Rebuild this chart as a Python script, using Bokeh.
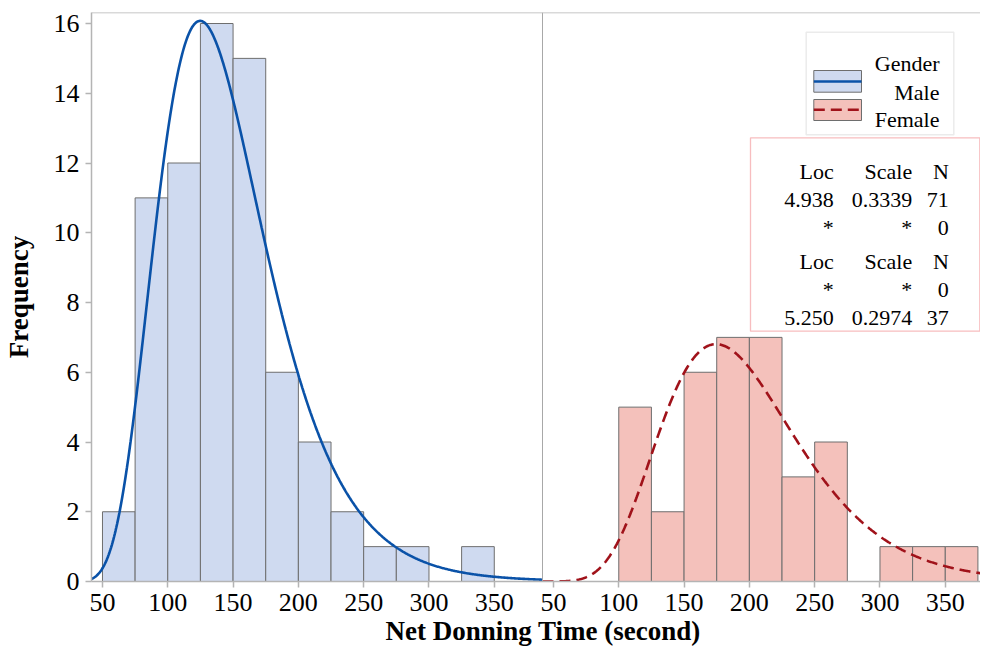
import numpy as np
from bokeh.plotting import figure
from bokeh.models import (Range1d, FixedTicker, Span, Label, BoxAnnotation, Title,
                          CustomJSTickFormatter, ColumnDataSource)
from bokeh.embed import file_html
from bokeh.resources import INLINE

# ---------------- data ----------------
male_bin_left = [50, 75, 100, 125, 150, 175, 200, 225, 250, 275, 300, 325]
male_counts = [2, 11, 12, 16, 15, 6, 4, 2, 1, 1, 0, 1]
female_bin_left = [100, 125, 150, 175, 200, 225, 250, 275, 300, 325, 350]
female_counts = [5, 2, 6, 7, 7, 3, 4, 0, 1, 1, 1]
bin_width = 25
x_ticks = [50, 100, 150, 200, 250, 300, 350]
y_ticks = [0, 2, 4, 6, 8, 10, 12, 14, 16]
groups = ["Male", "Female"]
fit_loc = [4.938, 5.250]
fit_scale = [0.3339, 0.2974]
fit_n = [71, 37]

# ---------------- styling / layout ----------------
FONT = "Liberation Serif"
male_fill, female_fill = "#CFDAF0", "#F4C1BB"
male_line, female_line = "#0A52A8", "#A0121A"
bar_edge = "#6E6E6E"
axis_gray = "#B4B4B4"

FIG_W, FIG_H = 980, 652
BL, BT, BB = 91, 12, 71
FRAME_W = FIG_W - BL
FRAME_H = FIG_H - BT - BB
KX = 1.306            # px per x unit
KY = 34.875           # px per y unit
X_START = 41.6
PANEL = 451 / KX      # width of one panel in x units
X_END = X_START + FRAME_W / KX
Y_END = FRAME_H / KY
FL, FB = BL, BT + FRAME_H   # page px of frame left / bottom


def px(xp):
    return X_START + (xp - FL) / KX


def py(yp):
    return (FB - yp) / KY


p = figure(width=FIG_W, height=FIG_H, x_range=Range1d(X_START, X_END),
           y_range=Range1d(0, Y_END), output_backend="svg", toolbar_location=None,
           min_border_left=BL, min_border_right=0, min_border_top=BT,
           min_border_bottom=BB)
p.outline_line_color = None
p.xgrid.visible = False
p.ygrid.visible = False
p.background_fill_color = "white"
p.border_fill_color = "white"

# ---------------- bars ----------------
ml = np.array(male_bin_left, dtype=float)
fl = np.array(female_bin_left, dtype=float) + PANEL
src_m = ColumnDataSource(dict(left=ml, right=ml + bin_width,
                              top=male_counts, bottom=[0] * len(male_counts)))
src_f = ColumnDataSource(dict(left=fl, right=fl + bin_width,
                              top=female_counts, bottom=[0] * len(female_counts)))
p.quad(left="left", right="right", top="top", bottom="bottom", source=src_m,
       fill_color=male_fill, line_color=bar_edge, line_width=1)
p.quad(left="left", right="right", top="top", bottom="bottom", source=src_f,
       fill_color=female_fill, line_color=bar_edge, line_width=1)


# ---------------- fitted lognormal curves ----------------
def lognorm_counts(x, loc, scale, n):
    return n * bin_width * np.exp(-(np.log(x) - loc) ** 2 / (2 * scale ** 2)) / (
        x * scale * np.sqrt(2 * np.pi))


xs_m = np.linspace(X_START, X_START + PANEL, 600)
p.line(xs_m, lognorm_counts(xs_m, fit_loc[0], fit_scale[0], fit_n[0]),
       line_color=male_line, line_width=2.6)
xs_f = np.linspace(X_START, X_END - PANEL, 600)
p.line(xs_f + PANEL, lognorm_counts(xs_f, fit_loc[1], fit_scale[1], fit_n[1]),
       line_color=female_line, line_width=2.6, line_dash="11 6")

# ---------------- borders ----------------
p.add_layout(Span(location=X_START + PANEL, dimension="height",
                  line_color="#A8A8A8", line_width=1))
p.add_layout(Span(location=Y_END, dimension="width",
                  line_color=axis_gray, line_width=1.5))

# ---------------- axes ----------------
p.xaxis.ticker = FixedTicker(ticks=x_ticks + [t + PANEL for t in x_ticks])
p.xaxis.formatter = CustomJSTickFormatter(
    args=dict(panel=PANEL, div=X_START + PANEL),
    code="const v = tick >= div ? tick - panel : tick; return Math.round(v).toString();")
p.yaxis.ticker = FixedTicker(ticks=y_ticks)
for ax in (p.xaxis[0], p.yaxis[0]):
    ax.axis_line_color = axis_gray
    ax.axis_line_width = 1.5
    ax.major_tick_line_color = axis_gray
    ax.major_tick_line_width = 1.5
    ax.major_tick_out = 6
    ax.major_tick_in = 0
    ax.minor_tick_line_color = None
    ax.major_label_text_font = FONT
    ax.major_label_text_font_size = "26px"
    ax.major_label_text_color = "black"
    ax.major_label_standoff = 6
p.yaxis.axis_label = "Frequency"
p.yaxis.axis_label_text_font = FONT
p.yaxis.axis_label_text_font_size = "27px"
p.yaxis.axis_label_text_font_style = "bold"
p.yaxis.axis_label_text_color = "black"
p.yaxis.axis_label_standoff = 17

# x-axis title, spanning both panels (centred on the panel divider)
p.add_layout(Title(text="Net Donning Time (second)", align="left", offset=385 - FL,
                   text_font=FONT, text_font_size="27px", text_font_style="bold",
                   text_color="black", standoff=0), "below")

# ---------------- legend ----------------
p.add_layout(BoxAnnotation(left=px(805.7), right=px(953.3), top=py(31.7),
                           bottom=py(134.3), fill_alpha=0,
                           line_color="#BEBEBE", line_width=1.5))
sw_left, sw_right = px(813.3), px(861)
p.quad(left=[sw_left], right=[sw_right], top=[py(70)], bottom=[py(91.7)],
       fill_color=male_fill, line_color=bar_edge, line_width=1)
p.line([sw_left, sw_right], [py(81)] * 2, line_color=male_line, line_width=2.6)
p.quad(left=[sw_left], right=[sw_right], top=[py(99)], bottom=[py(120)],
       fill_color=female_fill, line_color=bar_edge, line_width=1)
p.line([sw_left, sw_right], [py(109.3)] * 2, line_color=female_line,
       line_width=2.6, line_dash="11 6")

for txt, base in [("Gender", 62.7), (groups[0], 91.7), (groups[1], 119.3)]:
    p.add_layout(Label(x=px(939), y=py(base), text=txt, text_font=FONT,
                       text_font_size="22px", text_align="right",
                       text_baseline="alphabetic", text_color="black"))

# ---------------- fit statistics box ----------------
p.add_layout(BoxAnnotation(left=px(750), right=px(979.3), top=py(137.3),
                           bottom=py(330.7), fill_alpha=0,
                           line_color="#E3262C", line_width=1.3))
col_right = [833.3, 911.7, 948.3]
rows = [
    (["Loc", "Scale", "N"], 171),
    (["%.3f" % fit_loc[0], "%.4f" % fit_scale[0], str(fit_n[0])], 199),
    (["*", "*", "0"], 227),
    (["Loc", "Scale", "N"], 261),
    (["*", "*", "0"], 289),
    (["%.3f" % fit_loc[1], "%.4f" % fit_scale[1], str(fit_n[1])], 317.5),
]
for cells, base in rows:
    for txt, cr in zip(cells, col_right):
        p.add_layout(Label(x=px(cr), y=py(base), text=txt, text_font=FONT,
                           text_font_size="22px", text_align="right",
                           text_baseline="alphabetic", text_color="black"))

open("out.html", "w").write(file_html(p, INLINE))
